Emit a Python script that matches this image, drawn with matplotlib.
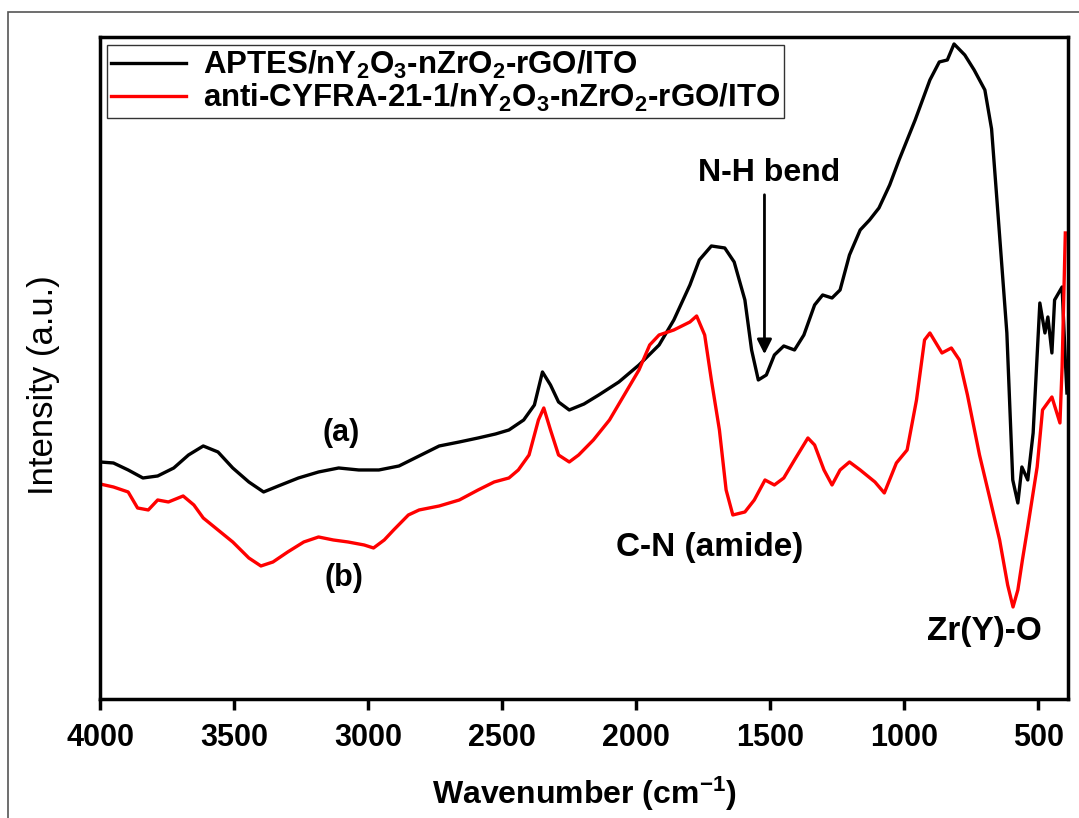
import matplotlib
matplotlib.use('Agg')
import matplotlib.pyplot as plt
from matplotlib.patches import Rectangle

plt.rcParams['font.family'] = ['Liberation Sans', 'DejaVu Sans']
plt.rcParams['mathtext.fontset'] = 'custom'
plt.rcParams['mathtext.rm'] = 'Liberation Sans:bold'
plt.rcParams['mathtext.bf'] = 'Liberation Sans:bold'
plt.rcParams['mathtext.default'] = 'bf'

# (a) APTES/nY2O3-nZrO2-rGO/ITO
wn_a = [4000, 3950, 3895, 3840, 3785, 3725, 3670, 3615, 3560, 3505, 3445, 3390, 3335,
        3260, 3185, 3110, 3035, 2960, 2885, 2810, 2735, 2660, 2590, 2525, 2475, 2420,
        2380, 2350, 2320, 2290, 2250, 2195, 2140, 2065, 1990, 1915, 1860, 1800, 1765,
        1720, 1670, 1635, 1595, 1570, 1545, 1515, 1485, 1450, 1410, 1375, 1335, 1305,
        1270, 1240, 1205, 1165, 1130, 1095, 1055, 1020, 960, 905, 870, 840, 815, 775,
        740, 700, 675, 655, 618, 596, 577, 562, 540, 520, 495, 476, 465, 450, 440, 412, 400, 394]
int_a = [2.37, 2.36, 2.29, 2.21, 2.23, 2.31, 2.44, 2.53, 2.47, 2.31, 2.17, 2.07, 2.13,
         2.21, 2.27, 2.31, 2.29, 2.29, 2.33, 2.43, 2.53, 2.57, 2.61, 2.65, 2.69, 2.79,
         2.94, 3.27, 3.14, 2.97, 2.89, 2.95, 3.04, 3.17, 3.34, 3.54, 3.79, 4.14, 4.39,
         4.53, 4.51, 4.37, 3.99, 3.49, 3.19, 3.24, 3.44, 3.53, 3.49, 3.64, 3.94, 4.04,
         4.01, 4.09, 4.44, 4.69, 4.79, 4.91, 5.14, 5.39, 5.79, 6.19, 6.37, 6.39, 6.55, 6.44,
         6.29, 6.09, 5.70, 4.99, 3.66, 2.19, 1.96, 2.32, 2.19, 2.66, 3.96, 3.66, 3.82, 3.46,
         3.99, 4.12, 3.39, 3.06]

# (b) anti-CYFRA-21-1/nY2O3-nZrO2-rGO/ITO
wn_b = [4000, 3950, 3895, 3860, 3820, 3785, 3745, 3690, 3650, 3615, 3560, 3505, 3445,
        3400, 3355, 3300, 3240, 3185, 3130, 3075, 3015, 2980, 2940, 2905, 2850, 2810,
        2735, 2660, 2590, 2530, 2475, 2440, 2400, 2365, 2345, 2320, 2290, 2250, 2215,
        2160, 2100, 2045, 1990, 1950, 1915, 1860, 1800, 1775, 1745, 1720, 1690, 1665,
        1640, 1595, 1560, 1520, 1485, 1450, 1410, 1360, 1335, 1300, 1270, 1240, 1205,
        1165, 1110, 1075, 1030, 990, 955, 925, 905, 860, 825, 795, 765, 720, 680, 645,
        615, 595, 577, 560, 540, 505, 485, 450, 420, 412, 400]
int_b = [2.15, 2.12, 2.07, 1.91, 1.89, 1.99, 1.97, 2.03, 1.94, 1.81, 1.69, 1.57, 1.41,
         1.33, 1.37, 1.47, 1.57, 1.62, 1.59, 1.57, 1.54, 1.51, 1.59, 1.69, 1.84, 1.89,
         1.93, 1.99, 2.09, 2.17, 2.21, 2.29, 2.44, 2.79, 2.91, 2.69, 2.44, 2.37, 2.44,
         2.59, 2.79, 3.04, 3.29, 3.54, 3.64, 3.69, 3.77, 3.83, 3.64, 3.19, 2.69, 2.09,
         1.84, 1.87, 1.99, 2.19, 2.14, 2.21, 2.39, 2.61, 2.54, 2.29, 2.14, 2.29, 2.37,
         2.29, 2.17, 2.06, 2.36, 2.49, 2.99, 3.59, 3.66, 3.46, 3.51, 3.39, 3.04, 2.44,
         1.99, 1.59, 1.14, 0.92, 1.09, 1.39, 1.72, 2.32, 2.89, 3.02, 2.76, 3.32, 4.66]

label_a = r'APTES/nY$_{2}$O$_{3}$-nZrO$_{2}$-rGO/ITO'
label_b = r'anti-CYFRA-21-1/nY$_{2}$O$_{3}$-nZrO$_{2}$-rGO/ITO'
xticks = [4000, 3500, 3000, 2500, 2000, 1500, 1000, 500]

fig = plt.figure(figsize=(10.79, 8.18), dpi=100)
ax = fig.add_axes([0.0927, 0.1455, 0.8971, 0.8093])

ax.plot(wn_a, int_a, color='black', lw=2.4, label=label_a)
ax.plot(wn_b, int_b, color='red', lw=2.4, label=label_b)

ax.set_xlim(4000, 390)
ax.set_ylim(0, 6.62)
ax.set_xticks(xticks)
ax.set_xticklabels([str(t) for t in xticks], fontsize=22, fontweight='bold')
ax.set_yticks([])
ax.tick_params(axis='x', direction='out', length=8, width=2.5, pad=9)
for s in ax.spines.values():
    s.set_linewidth(2.5)

ax.set_xlabel(r'Wavenumber (cm$^{-1}$)', fontsize=23, fontweight='bold', labelpad=16)
ax.set_ylabel('Intensity (a.u.)', fontsize=25)
ax.yaxis.set_label_coords(-0.041, 0.474)

leg = ax.legend(loc='upper left', bbox_to_anchor=(0.007, 0.988), borderaxespad=0,
                prop={'weight': 'bold', 'size': 22.5}, fancybox=False,
                edgecolor='black', handlelength=2.4, handletextpad=0.55,
                borderpad=0.12, labelspacing=0.05)
leg.get_frame().set_linewidth(1.0)

ax.annotate('', xy=(1522, 3.42), xytext=(1522, 5.07),
            arrowprops=dict(arrowstyle='-|>', color='black', lw=2, mutation_scale=22))
ax.text(1504, 5.26, 'N-H bend', fontsize=23, fontweight='bold', ha='center', va='center')
ax.text(3099, 2.66, '(a)', fontsize=22, fontweight='bold', ha='center', va='center')
ax.text(3092, 1.21, '(b)', fontsize=22, fontweight='bold', ha='center', va='center')
ax.text(1728, 1.51, 'C-N (amide)', fontsize=24, fontweight='bold', ha='center', va='center')
ax.text(700, 0.67, 'Zr(Y)-O', fontsize=24, fontweight='bold', ha='center', va='center')

# outer frame around figure
fig.patches.append(Rectangle((8 / 1079, -0.1), 2, (818 - 12) / 818 + 0.1,
                             transform=fig.transFigure, fill=False,
                             edgecolor='#555555', lw=1.2))

fig.savefig('out.png', dpi=100)
